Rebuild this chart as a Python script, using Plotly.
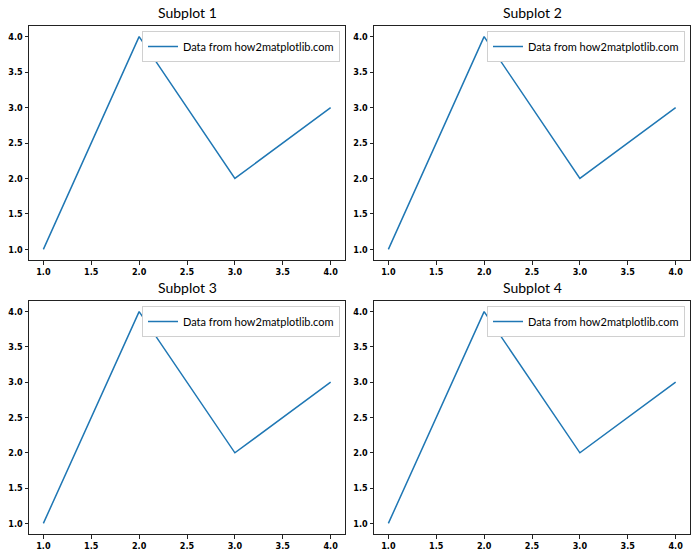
import plotly.graph_objects as go

x_vals = [1, 2, 3, 4]
y_vals = [1, 4, 2, 3]
titles = ["Subplot 1", "Subplot 2", "Subplot 3", "Subplot 4"]
series_name = "Data from how2matplotlib.com"
x_ticks = [1.0, 1.5, 2.0, 2.5, 3.0, 3.5, 4.0]
y_ticks = [1.0, 1.5, 2.0, 2.5, 3.0, 3.5, 4.0]

W, H = 700, 560
xdoms = [(29 / W, 345 / W), (374 / W, 690 / W)]
ydoms = [(1 - 260 / H, 1 - 26 / H), (1 - 534 / H, 1 - 301 / H)]

fig = go.Figure()
layout = dict(width=W, height=H, margin=dict(l=0, r=0, t=0, b=0, autoexpand=False),
              plot_bgcolor="white", paper_bgcolor="white",
              font=dict(family="DejaVu Sans", color="black"),
              annotations=[])

for i in range(4):
    r, c = divmod(i, 2)
    k = i + 1
    xa = "x" if k == 1 else f"x{k}"
    ya = "y" if k == 1 else f"y{k}"
    lg = "legend" if k == 1 else f"legend{k}"
    fig.add_trace(go.Scatter(x=x_vals, y=y_vals, mode="lines", name=series_name,
                             line=dict(color="#1f77b4", width=1.5),
                             xaxis=xa, yaxis=ya, legend=lg, showlegend=True))
    axcommon = dict(showline=True, mirror=True, linecolor="#222", linewidth=1,
                    ticks="outside", ticklen=3.5, tickcolor="#222", showgrid=False,
                    zeroline=False, automargin=False,
                    tickfont=dict(size=9, family="DejaVu Sans Condensed", weight="bold"),
                    tickformat=".1f")
    layout["xaxis" if k == 1 else f"xaxis{k}"] = dict(
        domain=list(xdoms[c]), range=[0.85, 4.15], tickvals=x_ticks,
        anchor=ya, **axcommon)
    layout["yaxis" if k == 1 else f"yaxis{k}"] = dict(
        domain=list(ydoms[r]), range=[0.85, 4.15], tickvals=y_ticks,
        anchor=xa, **axcommon)
    layout[lg] = dict(x=xdoms[c][1] - 5 / W, y=ydoms[r][1] - 5 / H,
                      xanchor="right", yanchor="top", bgcolor="white",
                      bordercolor="#d0d0d0", borderwidth=1, itemwidth=30,
                      font=dict(size=11, family="Lato"))
    layout["annotations"].append(dict(
        text=titles[i], x=(xdoms[c][0] + xdoms[c][1]) / 2, y=ydoms[r][1] + 3 / H,
        xref="paper", yref="paper", xanchor="center", yanchor="bottom",
        showarrow=False, font=dict(size=14, family="Lato")))

fig.update_layout(**layout)
fig.write_html("out.html", config={"displayModeBar": False},
               post_script="document.body.style.margin='0';")
